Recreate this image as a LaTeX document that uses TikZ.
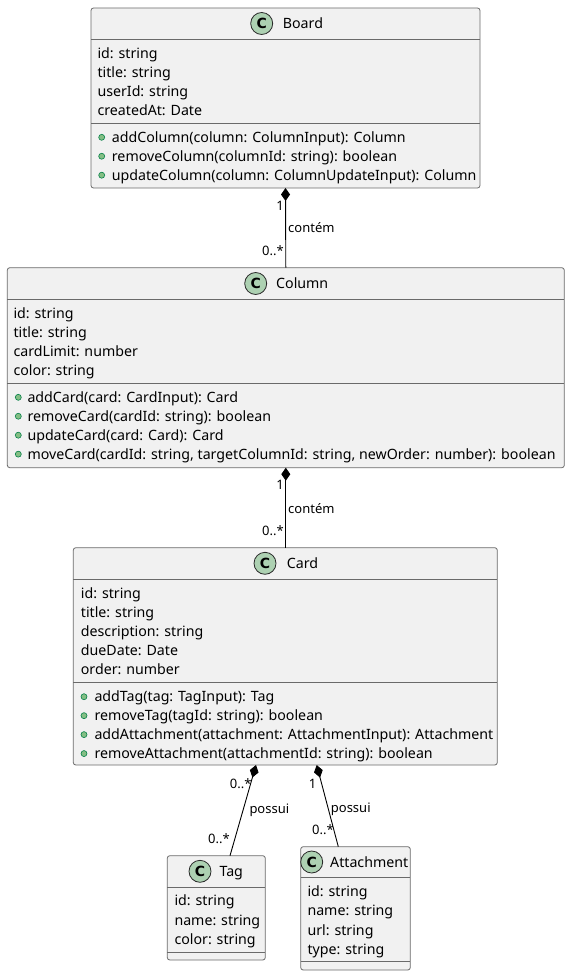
\documentclass[tikz,border=0pt]{standalone}
\usepackage{fontspec}
\setmainfont{Noto Sans}
\newfontfamily\circfont{DejaVu Sans}
\usetikzlibrary{arrows.meta}
\definecolor{umlfill}{HTML}{F1F1F1}
\definecolor{umlborder}{HTML}{6A6A6A}
\definecolor{circborder}{HTML}{2A2A2A}
\definecolor{circfill}{HTML}{ADD1B2}
\definecolor{bulfill}{HTML}{84BE84}
\definecolor{bulborder}{HTML}{038048}
\begin{document}
\begin{tikzpicture}[x=1pt,y=-1pt,
  cls/.style={draw=umlborder, fill=umlfill, rounded corners=2.5pt, line width=0.8pt, inner sep=0pt, outer sep=0pt, anchor=north west},
  sep/.style={draw=umlborder, line width=0.8pt},
  circ/.style={circle, draw=circborder, line width=0.8pt, fill=circfill, minimum size=22pt, inner sep=0pt, font=\fontsize{14}{16}\circfont\bfseries},
  ctitle/.style={anchor=base west, inner sep=0pt, font=\fontsize{14.2}{16}\selectfont},
  ctext/.style={anchor=base west, inner sep=0pt, font=\fontsize{14.2}{16}\selectfont},
  bul/.style={circle, draw=bulborder, fill=bulfill, line width=0.6pt, minimum size=6pt, inner sep=0pt},
  lblE/.style={anchor=base east, inner sep=0pt, font=\fontsize{13}{15}\selectfont},
  lblW/.style={anchor=base west, inner sep=0pt, font=\fontsize{13}{15}\selectfont},
  comp/.style={draw=black, line width=0.9pt, {Diamond[length=13pt,width=9pt]}-}
]
\useasboundingbox (0,0) rectangle (570,976);

% ---------- Board ----------
\node[cls, minimum width=389pt, minimum height=180pt] (board) at (91,8) {};
\draw[sep] (91,39) -- (480,39);
\draw[sep] (91,123.3) -- (480,123.3);
\node[circ] (boardc) at (261.7,23.5) {C};
\node[ctitle] (boardt) at (282.7,28.5) {Board};
\foreach \t [count=\i] in {{id: string},{title: string},{userId: string},{createdAt: Date}}
  \node[ctext] (ba\i) at (97.3,{53.3+18.95*(\i-1)+5}) {\t};
\foreach \t [count=\i] in {{addColumn(column: ColumnInput): Column},{removeColumn(columnId: string): boolean},{updateColumn(column: ColumnUpdateInput): Column}}{
  \node[bul] (bbul\i) at (101.7,{137.3+18.95*(\i-1)}) {};
  \node[ctext] (bm\i) at (111.7,{137.3+18.95*(\i-1)+5}) {\t};
}

% ---------- Column ----------
\node[cls, minimum width=557pt, minimum height=200pt] (column) at (7.3,267.7) {};
\draw[sep] (7.3,299.3) -- (564.3,299.3);
\draw[sep] (7.3,383.3) -- (564.3,383.3);
\node[circ] (columnc) at (255.7,283.5) {C};
\node[ctitle] (columnt) at (276,288.5) {Column};
\foreach \t [count=\i] in {{id: string},{title: string},{cardLimit: number},{color: string}}
  \node[ctext] (ca\i) at (13.3,{313.3+18.95*(\i-1)+5}) {\t};
\foreach \t [count=\i] in {{addCard(card: CardInput): Card},{removeCard(cardId: string): boolean},{updateCard(card: Card): Card},{moveCard(cardId: string, targetColumnId: string, newOrder: number): boolean}}{
  \node[bul] (cbul\i) at (18.3,{397.3+18.95*(\i-1)}) {};
  \node[ctext] (cm\i) at (27.3,{397.3+18.95*(\i-1)+5}) {\t};
}

% ---------- Card ----------
\node[cls, minimum width=424pt, minimum height=217.3pt] (card) at (73.3,547.7) {};
\draw[sep] (73.3,579) -- (497.3,579);
\draw[sep] (73.3,682.3) -- (497.3,682.3);
\node[circ] (cardc) at (265,563.3) {C};
\node[ctitle] (cardt) at (286.7,568.3) {Card};
\foreach \t [count=\i] in {{id: string},{title: string},{description: string},{dueDate: Date},{order: number}}
  \node[ctext] (da\i) at (80.7,{593.3+18.95*(\i-1)+5}) {\t};
\foreach \t [count=\i] in {{addTag(tag: TagInput): Tag},{removeTag(tagId: string): boolean},{addAttachment(attachment: AttachmentInput): Attachment},{removeAttachment(attachmentId: string): boolean}}{
  \node[bul] (dbul\i) at (84,{696.7+18.95*(\i-1)}) {};
  \node[ctext] (dm\i) at (94.3,{696.7+18.95*(\i-1)+5}) {\t};
}

% ---------- Tag ----------
\node[cls, minimum width=98pt, minimum height=104.3pt] (tag) at (167.3,855.7) {};
\draw[sep] (167.3,887) -- (265.3,887);
\draw[sep] (167.3,952.3) -- (265.3,952.3);
\node[circ] (tagc) at (200,871.3) {C};
\node[ctitle] (tagt) at (219.3,876.3) {Tag};
\foreach \t [count=\i] in {{id: string},{name: string},{color: string}}
  \node[ctext] (ta\i) at (174.3,{900.9+19.2*(\i-1)+5}) {\t};

% ---------- Attachment ----------
\node[cls, minimum width=109.6pt, minimum height=123.3pt] (att) at (300.7,846.7) {};
\draw[sep] (300.7,877.3) -- (410.3,877.3);
\draw[sep] (300.7,961.7) -- (410.3,961.7);
\node[circ] (attc) at (311.7,862) {C};
\node[ctitle] (attt) at (330,867) {Attachment};
\foreach \t [count=\i] in {{id: string},{name: string},{url: string},{type: string}}
  \node[ctext] (aa\i) at (307.3,{891.7+19.2*(\i-1)+5}) {\t};

% ---------- Connectors ----------
\draw[comp] (board.south) -- (column.north);
\draw[comp] (column.south) -- (column.south |- card.north);
\coordinate (cardtag) at (256,765);
\coordinate (tagtop) at (230,855.7);
\coordinate (cardatt) at (316.7,765);
\coordinate (atttop) at (338.3,846.7);
\draw[comp] (cardtag) -- (tagtop);
\draw[comp] (cardatt) -- (atttop);

% ---------- Labels ----------
\node[lblE] (l1a) at (284,210.4) {1};
\node[lblW] (l1b) at (288,232.7) {contém};
\node[lblE] (l1c) at (284,255.4) {0..*};
\node[lblE] (l2a) at (284,489.7) {1};
\node[lblW] (l2b) at (288,513) {contém};
\node[lblE] (l2c) at (284,535.4) {0..*};
\node[lblE] (l3a) at (251.7,788) {0..*};
\node[lblW] (l3b) at (249.3,813) {possui};
\node[lblE] (l3c) at (230,843.7) {0..*};
\node[lblE] (l4a) at (316.5,788) {1};
\node[lblW] (l4b) at (330.7,812.7) {possui};
\node[lblE] (l4c) at (334,834) {0..*};
\end{tikzpicture}
\end{document}
